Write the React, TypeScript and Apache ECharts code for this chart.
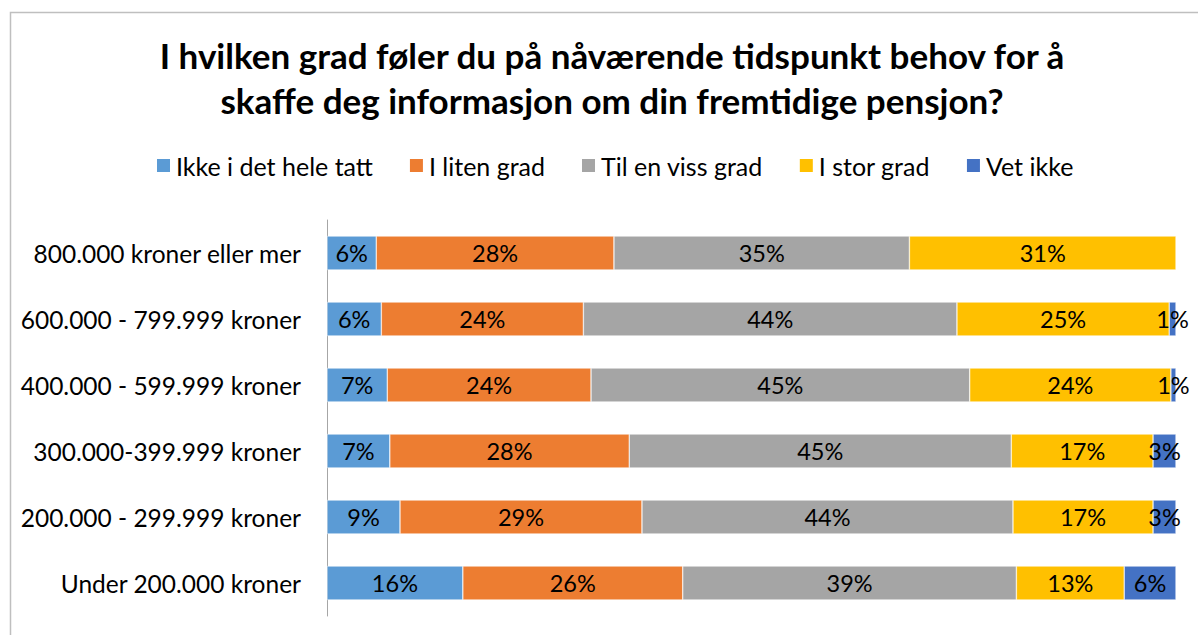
import React, { useEffect, useRef } from "react";
import * as echarts from "echarts";

const categories = [
  "800.000 kroner eller mer",
  "600.000 - 799.999 kroner",
  "400.000 - 599.999 kroner",
  "300.000-399.999 kroner",
  "200.000 - 299.999 kroner",
  "Under 200.000 kroner",
];
const seriesNames = ["Ikke i det hele tatt", "I liten grad", "Til en viss grad", "I stor grad", "Vet ikke"];
const colors = ["#5B9BD5", "#ED7D31", "#A5A5A5", "#FFC000", "#4472C4"];
const ikkeIDetHeleTatt = [5.8, 6.4, 7.1, 7.4, 8.6, 16.0];
const iLitenGrad = [28.0, 23.8, 24.0, 28.2, 28.5, 25.9];
const tilEnVissGrad = [34.8, 44.0, 44.6, 45.0, 43.7, 39.3];
const iStorGrad = [31.4, 25.0, 23.7, 16.7, 16.5, 12.7];
const vetIkke = [null, 0.8, 0.6, 2.7, 2.7, 6.1];
const seriesValues = [ikkeIDetHeleTatt, iLitenGrad, tilEnVissGrad, iStorGrad, vetIkke];

const FONT = "Lato";

export default function App() {
  const ref = useRef<HTMLDivElement>(null);
  useEffect(() => {
    document.body.style.margin = "0";
    const chart = echarts.init(ref.current!, null, { renderer: "svg" });
    chart.setOption({
      animation: false,
      color: colors,
      textStyle: { fontFamily: FONT },
      title: {
        text: "I hvilken grad føler du på nåværende tidspunkt behov for å\nskaffe deg informasjon om din fremtidige pensjon?",
        left: 607,
        textAlign: "center",
        top: 27,
        textStyle: { fontFamily: FONT, fontSize: 35, fontWeight: "bold", color: "#000", lineHeight: 45 },
      },
      legend: {
        top: 148,
        left: 150,
        itemWidth: 15,
        itemHeight: 15,
        itemGap: 35,
        icon: "rect",
        textStyle: { fontFamily: FONT, fontSize: 25, color: "#000" },
        data: seriesNames,
      },
      graphic: [
        {
          type: "rect",
          shape: { x: 10.5, y: 12.5, width: 1300, height: 800 },
          style: { fill: "none", stroke: "#BFBFBF", lineWidth: 1.5 },
          silent: true,
        },
      ],
      grid: { left: 327, right: 22, top: 220, bottom: 19, containLabel: false },
      xAxis: {
        type: "value",
        min: 0,
        max: 100,
        show: false,
      },
      yAxis: {
        type: "category",
        inverse: true,
        data: categories,
        axisLine: { show: true, lineStyle: { color: "#A6A6A6", width: 1 } },
        axisTick: { show: false },
        axisLabel: { fontFamily: FONT, fontSize: 24.5, color: "#000", margin: 26 },
      },
      series: seriesNames.map((name, i) => ({
        name,
        type: "bar",
        stack: "total",
        barWidth: 34,
        data: seriesValues[i],
        itemStyle: { color: colors[i], borderColor: "#fff", borderWidth: 0.5 },
        label: {
          show: true,
          position: "inside",
          fontFamily: FONT,
          fontSize: 23.5,
          color: "#000",
          formatter: (p: any) => (p.value == null ? "" : Math.round(p.value) + "%"),
        },
        labelLayout: { hideOverlap: false },
      })),
    });
    return () => chart.dispose();
  }, []);
  return <div ref={ref} style={{ width: 1198, height: 635 }} />;
}
